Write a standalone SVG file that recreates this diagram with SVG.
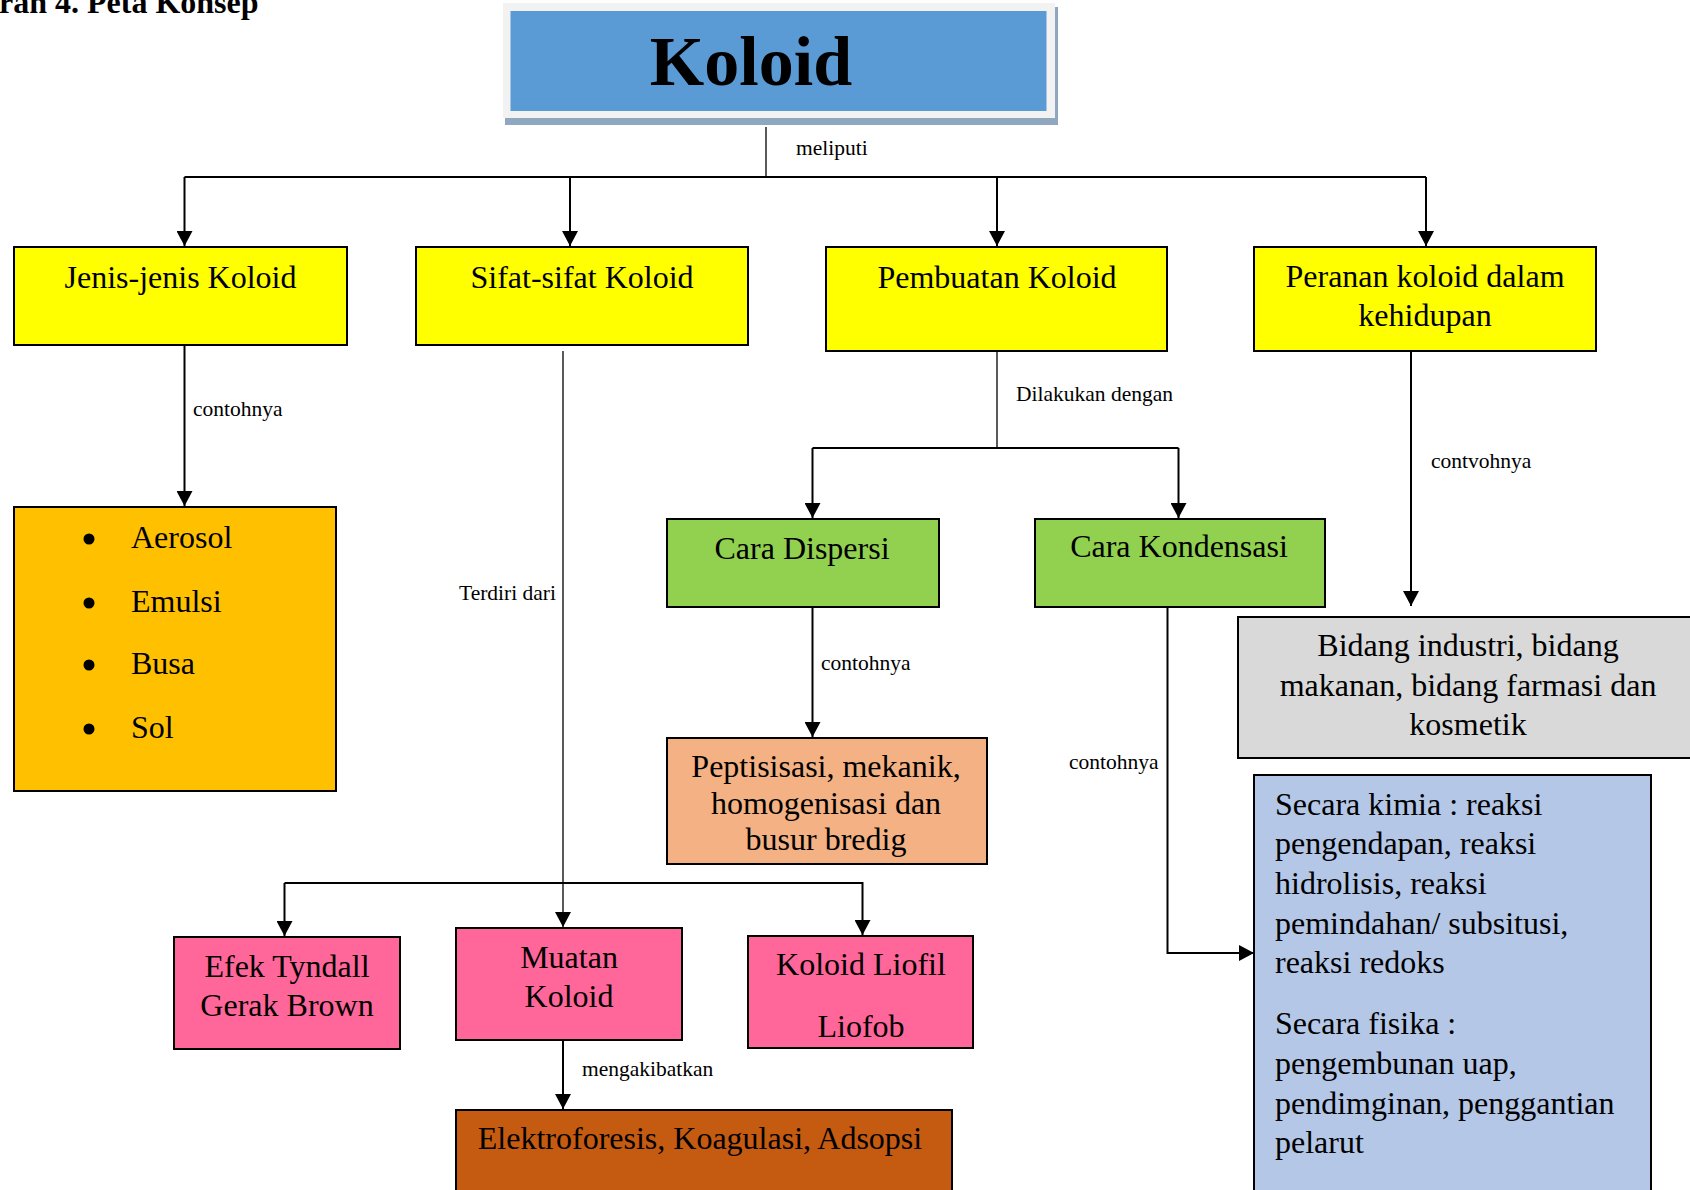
<svg xmlns="http://www.w3.org/2000/svg" width="1690" height="1190" viewBox="0 0 1690 1190">
<defs>
<marker id="ah" markerWidth="16" markerHeight="16" viewBox="0 0 16 16" refX="15" refY="8" orient="auto" markerUnits="userSpaceOnUse">
<path d="M0,0 L15,8 L0,16 Z" fill="#000"/>
</marker>
</defs>
<style>
text{font-family:"Liberation Serif","Times New Roman",serif;fill:#000}
.t{font-size:32px;text-anchor:middle}
.tl{font-size:32px}
.lb{font-size:21.5px}
.box{stroke:#000;stroke-width:2}
.thin{fill:none;stroke:#000;stroke-width:1.3}
.thick{fill:none;stroke:#000;stroke-width:2}
</style>
<rect width="1690" height="1190" fill="#fff"/>
<text x="-1" y="13" style="font-size:32px;font-weight:bold">ran 4. Peta Konsep</text>

<g id="n-koloid">
<rect x="505" y="7" width="553" height="118" fill="#8FA8C0"/>
<rect x="503" y="3" width="552" height="115" fill="#F2F2F2"/>
<rect x="510.5" y="11" width="536" height="100" fill="#5B9BD5"/>
<text x="751" y="85" style="font-size:70px;font-weight:bold;text-anchor:middle">Koloid</text>
</g>

<g id="connectors">
<path class="thin" d="M766,127 V177"/>
<path class="thick" d="M184.5,177 H1426"/>
<path class="thick" d="M184.5,177 V246" marker-end="url(#ah)"/>
<path class="thick" d="M570,177 V246" marker-end="url(#ah)"/>
<path class="thick" d="M997,177 V246" marker-end="url(#ah)"/>
<path class="thick" d="M1426,177 V246" marker-end="url(#ah)"/>
<text class="lb" x="796" y="155">meliputi</text>

<path class="thick" d="M184.5,345 V506" marker-end="url(#ah)"/>
<text class="lb" x="193" y="416">contohnya</text>

<path class="thin" d="M563,351 V927" marker-end="url(#ah)"/>
<text class="lb" x="459" y="600">Terdiri dari</text>
<path class="thick" d="M284.5,883 H862.5 V935" marker-end="url(#ah)"/>
<path class="thick" d="M284.5,883 V936" marker-end="url(#ah)"/>

<path class="thin" d="M997,351 V448"/>
<text class="lb" x="1016" y="401">Dilakukan dengan</text>
<path class="thick" d="M812.5,448 H1178.5"/>
<path class="thick" d="M812.5,448 V518" marker-end="url(#ah)"/>
<path class="thick" d="M1178.5,448 V518" marker-end="url(#ah)"/>

<path class="thick" d="M812.5,607 V737" marker-end="url(#ah)"/>
<text class="lb" x="821" y="670">contohnya</text>

<path class="thick" d="M1167.5,607 V953 H1254" marker-end="url(#ah)"/>
<text class="lb" x="1069" y="769">contohnya</text>

<path class="thick" d="M1411,351 V606" marker-end="url(#ah)"/>
<text class="lb" x="1431" y="468">contvohnya</text>

<path class="thick" d="M563,1040 V1109" marker-end="url(#ah)"/>
<text class="lb" x="582" y="1076">mengakibatkan</text>
</g>

<g id="n-jenis">
<rect class="box" x="14" y="247" width="333" height="98" fill="#FFFF00"/>
<text class="t" x="180.5" y="288">Jenis-jenis Koloid</text>
</g>
<g id="n-sifat">
<rect class="box" x="416" y="247" width="332" height="98" fill="#FFFF00"/>
<text class="t" x="582" y="288">Sifat-sifat Koloid</text>
</g>
<g id="n-pembuatan">
<rect class="box" x="826" y="247" width="341" height="104" fill="#FFFF00"/>
<text class="t" x="997" y="288">Pembuatan Koloid</text>
</g>
<g id="n-peranan">
<rect class="box" x="1254" y="247" width="342" height="104" fill="#FFFF00"/>
<text class="t" x="1425" y="287">Peranan koloid dalam</text>
<text class="t" x="1425" y="326">kehidupan</text>
</g>

<g id="n-jenis-list">
<rect class="box" x="14" y="507" width="322" height="284" fill="#FFC000"/>
<circle cx="89" cy="539" r="5.5"/>
<circle cx="89" cy="603" r="5.5"/>
<circle cx="89" cy="665" r="5.5"/>
<circle cx="89" cy="729" r="5.5"/>
<text class="tl" x="131" y="548">Aerosol</text>
<text class="tl" x="131" y="612">Emulsi</text>
<text class="tl" x="131" y="674">Busa</text>
<text class="tl" x="131" y="738">Sol</text>
</g>

<g id="n-dispersi">
<rect class="box" x="667" y="519" width="272" height="88" fill="#92D050"/>
<text class="t" x="802" y="559">Cara Dispersi</text>
</g>
<g id="n-kondensasi">
<rect class="box" x="1035" y="519" width="290" height="88" fill="#92D050"/>
<text class="t" x="1179" y="557">Cara Kondensasi</text>
</g>

<g id="n-peptisisasi">
<rect class="box" x="667" y="738" width="320" height="126" fill="#F4B183"/>
<text class="t" x="826" y="777">Peptisisasi, mekanik,</text>
<text class="t" x="826" y="814">homogenisasi dan</text>
<text class="t" x="826" y="850">busur bredig</text>
</g>

<g id="n-bidang">
<rect class="box" x="1238" y="617" width="470" height="141" fill="#D9D9D9"/>
<text class="t" x="1468" y="656">Bidang industri, bidang</text>
<text class="t" x="1468" y="696">makanan, bidang farmasi dan</text>
<text class="t" x="1468" y="735">kosmetik</text>
</g>

<g id="n-secara">
<rect class="box" x="1254" y="775" width="397" height="430" fill="#B4C7E7"/>
<text class="tl" x="1275" y="815">Secara kimia : reaksi</text>
<text class="tl" x="1275" y="854">pengendapan, reaksi</text>
<text class="tl" x="1275" y="894">hidrolisis, reaksi</text>
<text class="tl" x="1275" y="934">pemindahan/ subsitusi,</text>
<text class="tl" x="1275" y="973">reaksi redoks</text>
<text class="tl" x="1275" y="1034">Secara fisika :</text>
<text class="tl" x="1275" y="1074">pengembunan uap,</text>
<text class="tl" x="1275" y="1114">pendimginan, penggantian</text>
<text class="tl" x="1275" y="1153">pelarut</text>
</g>

<g id="n-efek">
<rect class="box" x="174" y="937" width="226" height="112" fill="#FF6699"/>
<text class="t" x="287" y="977">Efek Tyndall</text>
<text class="t" x="287" y="1016">Gerak Brown</text>
</g>
<g id="n-muatan">
<rect class="box" x="456" y="928" width="226" height="112" fill="#FF6699"/>
<text class="t" x="569" y="968">Muatan</text>
<text class="t" x="569" y="1007">Koloid</text>
</g>
<g id="n-liofil">
<rect class="box" x="748" y="936" width="225" height="112" fill="#FF6699"/>
<text class="t" x="861" y="975">Koloid Liofil</text>
<text class="t" x="861" y="1037">Liofob</text>
</g>

<g id="n-elektro">
<rect class="box" x="456" y="1110" width="496" height="100" fill="#C55A11"/>
<text class="t" x="700" y="1149">Elektroforesis, Koagulasi, Adsopsi</text>
</g>
</svg>
